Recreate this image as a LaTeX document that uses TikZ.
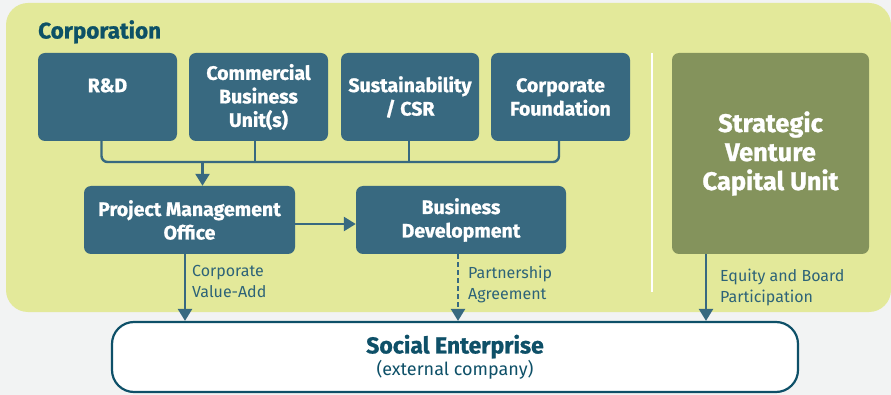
\documentclass[tikz,border=0pt]{standalone}
\usepackage{fontspec}
\setmainfont{Fira Sans}[BoldFeatures={FakeBold=1}]
\usetikzlibrary{arrows.meta}
\definecolor{bgcol}{HTML}{F2F3F3}
\definecolor{panelcol}{HTML}{E3E99A}
\definecolor{unitcol}{HTML}{386980}
\definecolor{svccol}{HTML}{84935C}
\definecolor{titlecol}{HTML}{0D5166}
\definecolor{lblcol}{HTML}{2D6378}
\definecolor{secol}{HTML}{0E5068}
\begin{document}
\begin{tikzpicture}[x=1pt,y=-1pt,
    unit/.style={fill=unitcol, rounded corners=7pt, text=white, align=center,
                 font=\fontsize{19.5}{23.5}\selectfont\bfseries, inner sep=0pt,
                 minimum width=139pt, minimum height=88pt},
    link/.style={draw=unitcol, line width=2.4pt},
    arrow/.style={link, -{Triangle[width=14pt,length=12pt]}},
    lbl/.style={anchor=north west, align=left, text=lblcol, inner sep=0pt,
                font=\fontsize{16}{21}\selectfont}]
  \useasboundingbox (0,0) rectangle (891,395);
  \fill[bgcol] (0,0) rectangle (891,395);
  \fill[panelcol, rounded corners=22pt] (6,3) rectangle (891,312);
  \draw[white, line width=2pt] (652,53) -- (652,292);
  \node[anchor=base west, inner sep=0pt, text=titlecol, font=\fontsize{22.5}{26}\selectfont\bfseries] (corp) at (38,38.5) {Corporation};
  % top row
  \node[unit] (rd) at (107.5,97) {R\&D\\\phantom{R}};
  \node[unit] (cbu) at (258.5,97) {Commercial\\Business\\Unit(s)};
  \node[unit, minimum width=138pt] (csr) at (410,97) {Sustainability\\/ CSR};
  \node[unit] (fdn) at (560.5,97) {Corporate\\Foundation};
  \node[unit, fill=svccol, minimum width=197pt, minimum height=201pt, font=\fontsize{25.5}{29}\selectfont\bfseries] (svc) at (770.5,153.5) {Strategic\\Venture\\Capital Unit};
  % second row
  \node[unit, minimum width=211pt, minimum height=68pt] (pmo) at (189.5,220) {Project Management\\Office};
  \node[unit, minimum width=210pt, minimum height=68pt] (bd) at (461,220) {Business\\Development};
  \node[draw=secol, line width=2.2pt, fill=white, rounded corners=22pt, minimum width=686pt, minimum height=70pt, align=center, text=secol, inner sep=0pt,
        font=\fontsize{23}{24}\selectfont\bfseries] (se) at (455,357) {Social Enterprise\\[-2pt]{\fontsize{18}{20}\selectfont\mdseries (external company)}};
  % connectors
  \coordinate (bus) at (202.5,162);
  \draw[link, rounded corners=6pt] ([xshift=-6pt]rd.south) |- (bus) -| ([xshift=-1.5pt]fdn.south);
  \draw[link] ([xshift=-3.5pt]cbu.south) -- ([xshift=-3.5pt]cbu.south |- bus);
  \draw[link] ([xshift=-1pt]csr.south) -- ([xshift=-1pt]csr.south |- bus);
  \draw[arrow] (bus) -- (bus |- pmo.north);
  \draw[arrow] ([yshift=-4pt]pmo.east) -- ([yshift=-4pt]bd.west);
  \draw[arrow] ([xshift=-4.5pt]pmo.south) -- ([xshift=-4.5pt]pmo.south |- se.north);
  \draw[arrow, dash pattern=on 5pt off 3pt] ([xshift=-3pt]bd.south) -- ([xshift=-3pt]bd.south |- se.north);
  \draw[arrow] ([xshift=-64.5pt]svc.south) -- ([xshift=-64.5pt]svc.south |- se.north);
  \node[lbl] (cva) at (192,265.5) {Corporate\\Value-Add};
  \node[lbl] (pa) at (468,265.5) {Partnership\\Agreement};
  \node[lbl] (ebp) at (720,268.5) {Equity and Board\\Participation};
\end{tikzpicture}
\end{document}
